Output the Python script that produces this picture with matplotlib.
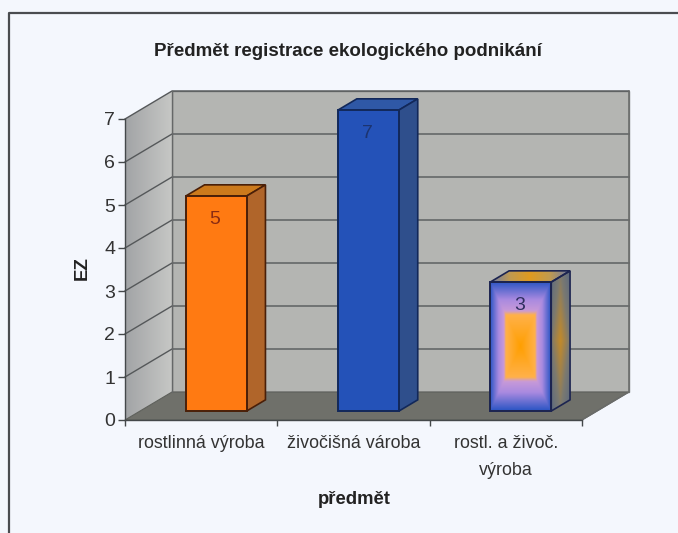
import numpy as np
import matplotlib
matplotlib.use("Agg")
import matplotlib.pyplot as plt
from matplotlib.colors import LinearSegmentedColormap
from matplotlib.patches import Polygon

plt.rcParams["font.family"] = ["Liberation Sans", "DejaVu Sans"]

categories = ["rostlinná výroba", "živočišná vároba", "rostl. a živoč.\nvýroba"]
values = [5, 7, 3]
yticks = [0, 1, 2, 3, 4, 5, 6, 7]
title = "Předmět registrace ekologického podnikání"
xlabel = "předmět"
ylabel = "EZ"

paper = "#f4f7fd"
ink = "#333333"
wall = "#b4b5b2"
floor = "#6f706a"
grid = "#55585a"

W, H = 678, 533
# where the front corner sits in the picture, and pixels per unit
x0_px, y0_px = 125, 420
cat_px, unit_px = 152.3, 43.0
# shift of the back wall, in data units
dx, dy = 47 / cat_px, 28 / unit_px
bar_w = 0.40
d_front, d_back = 0.32, 0.72


def sh(x, y, d):
    return x + d * dx, y + d * dy


fig = plt.figure(figsize=(W / 100, H / 100), dpi=100, facecolor=paper)
ax = fig.add_axes([0, 0, 1, 1], facecolor="none")
ax.set_xlim(-x0_px / cat_px, (W - x0_px) / cat_px)
ax.set_ylim((y0_px - H) / unit_px, y0_px / unit_px)

n = len(categories)
top = max(yticks)

# chart frame runs off the right and bottom of the scan
ax.plot([(8.5 - x0_px) / cat_px, (8.5 - x0_px) / cat_px, (W - x0_px) / cat_px],
        [(y0_px - H) / unit_px, (y0_px - 13.5) / unit_px, (y0_px - 13.5) / unit_px],
        color="#4a4c50", lw=1.6, zorder=1)


def grad_poly(pts, img, cmap, z):
    poly = Polygon(pts, closed=True, fc="none", ec="none", zorder=z)
    ax.add_patch(poly)
    xs, ys = zip(*pts)
    im = ax.imshow(img, extent=[min(xs), max(xs), min(ys), max(ys)], cmap=cmap,
                   vmin=0, vmax=1, aspect="auto", origin="lower", zorder=z,
                   interpolation="bilinear")
    im.set_clip_path(poly)


# walls and floor
ax.add_patch(Polygon([sh(0, 0, 1), sh(n, 0, 1), sh(n, top, 1), sh(0, top, 1)],
                     fc=wall, ec="#77797a", lw=1, zorder=2))
side_cmap = LinearSegmentedColormap.from_list("side", ["#a2a4a6", "#c6c7c5"])
grad_poly([sh(0, 0, 0), sh(0, 0, 1), sh(0, top, 1), sh(0, top, 0)],
          np.linspace(0, 1, 64).reshape(1, -1), side_cmap, 2)
ax.add_patch(Polygon([sh(0, 0, 0), sh(n, 0, 0), sh(n, 0, 1), sh(0, 0, 1)],
                     fc=floor, ec="#5d5f5a", lw=0.8, zorder=3))

# gridlines on back and side wall
for v in yticks[1:]:
    ax.plot(*zip(sh(0, v, 0), sh(0, v, 1), sh(n, v, 1)), color=grid, lw=1, zorder=4)
ax.plot(*zip(sh(0, 0, 1), sh(0, top, 1)), color="#666868", lw=1, zorder=4)

# bars
solid = [("#ff7a12", "#b0652a", "#cc7a1c", "#4a1f08"),
         ("#2452b8", "#2f4f8c", "#2f58a6", "#12285a")]
label_col = ["#8a2c12", "#1c3470", "#2f2f60"]

size = 128
u, v = np.meshgrid(np.linspace(-1, 1, size), np.linspace(-1, 1, size))
rect = np.maximum(np.abs(u), np.abs(v))
fancy = LinearSegmentedColormap.from_list(
    "fancy", [(0, "#ff9f00"), (0.48, "#ffb14a"), (0.55, "#c89ad8"),
              (0.72, "#a98ae0"), (1, "#2b55c4")])

for i, val in enumerate(values):
    l = i + 0.5 - bar_w / 2
    r = i + 0.5 + bar_w / 2
    front = [sh(l, 0, d_front), sh(r, 0, d_front), sh(r, val, d_front), sh(l, val, d_front)]
    right = [sh(r, 0, d_front), sh(r, 0, d_back), sh(r, val, d_back), sh(r, val, d_front)]
    roof = [sh(l, val, d_front), sh(r, val, d_front), sh(r, val, d_back), sh(l, val, d_back)]
    if i < len(solid):
        fc, sc, tc, ec = solid[i]
        ax.add_patch(Polygon(roof, fc=tc, ec=ec, lw=1.2, zorder=5))
        ax.add_patch(Polygon(right, fc=sc, ec=ec, lw=1.2, zorder=5))
        ax.add_patch(Polygon(front, fc=fc, ec=ec, lw=1.4, zorder=6))
    else:
        ec = "#1c2450"
        grad_poly(front, rect, fancy, 6)
        ax.add_patch(Polygon(front, fc="none", ec=ec, lw=1.4, zorder=7))
        side_map = LinearSegmentedColormap.from_list("s3", ["#c48a28", "#7c7a70", "#5c6a80"])
        grad_poly(right, np.abs(u) * 0.5 + np.abs(v) * 0.5, side_map, 5)
        ax.add_patch(Polygon(right, fc="none", ec=ec, lw=1.2, zorder=6))
        roof_map = LinearSegmentedColormap.from_list("r3", ["#e09a20", "#c09a50", "#6c7aa8"])
        grad_poly(roof, np.abs(u), roof_map, 5)
        ax.add_patch(Polygon(roof, fc="none", ec=ec, lw=1.2, zorder=6))
    xc, yc = sh(i + 0.5, val, d_front)
    ax.text(xc - 0.01, yc - 0.55, str(val), ha="center", va="center", fontsize=14,
            color=label_col[i], zorder=8)

# axes, through the real spines and ticks
for s in ["top", "right"]:
    ax.spines[s].set_visible(False)
for s, b in [("left", (0, top)), ("bottom", (0, n))]:
    ax.spines[s].set_position(("data", 0))
    ax.spines[s].set_bounds(*b)
    ax.spines[s].set_color("#44484a")
    ax.spines[s].set_linewidth(1)
    ax.spines[s].set_zorder(9)
ax.set_yticks(yticks)
ax.set_xticks(range(n + 1))
ax.set_xticklabels([])
ax.set_xticks([i + 0.5 for i in range(n)], categories, minor=True)
ax.tick_params(axis="y", length=5, width=1, color="#44484a", labelsize=14,
               labelcolor=ink, pad=2)
ax.tick_params(axis="x", which="major", length=4, width=1, color="#44484a")
ax.tick_params(axis="x", which="minor", length=0, labelsize=12.9, labelcolor=ink, pad=11)
for t in ax.get_xticklabels(minor=True):
    t.set_linespacing(1.75)
    t.set_va("top")
ax.plot(*zip(sh(n, 0, 0), sh(n, 0, 1), sh(n, top, 1)), color="#6a6c6a", lw=1, zorder=4)

fig.text(348 / W, 1 - 52 / H, title, ha="center", va="center", fontsize=13.5,
         fontweight="bold", color="#222222")
fig.text(354 / W, 1 - 500 / H, xlabel, ha="center", va="center", fontsize=13.3,
         fontweight="bold", color="#222222")
fig.text(82 / W, 1 - 268 / H, ylabel, ha="center", va="center", rotation=90,
         fontsize=13.5, fontweight="bold", color="#222222")

fig.savefig("out.png", dpi=100, facecolor=paper)
